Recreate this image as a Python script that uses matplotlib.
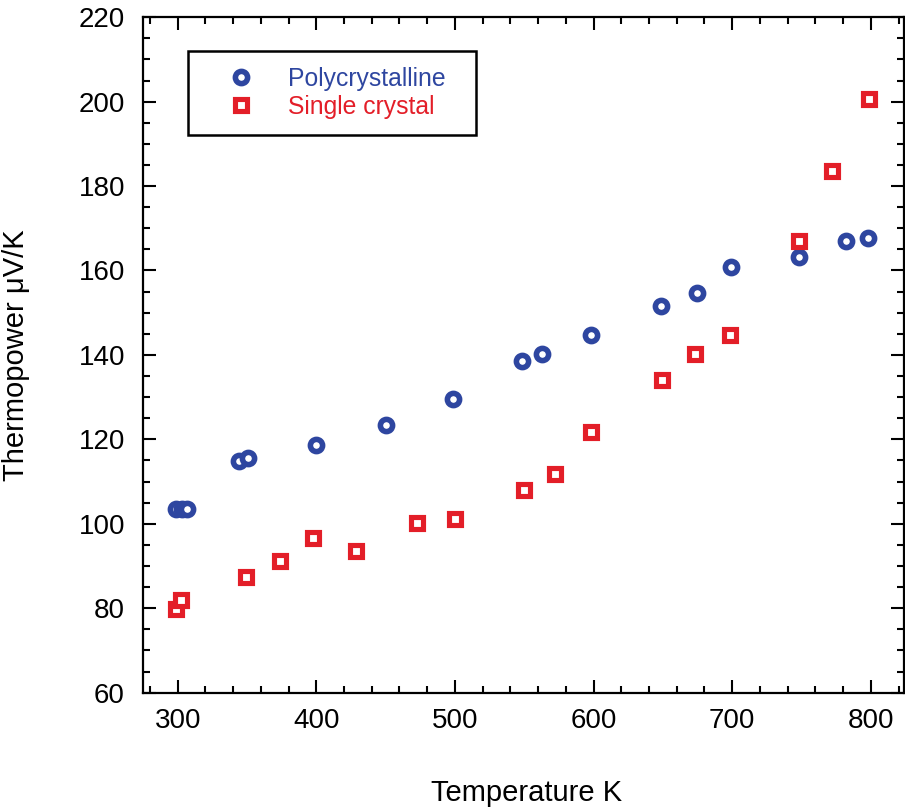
import matplotlib
matplotlib.use("Agg")
from matplotlib import pyplot as plt
from matplotlib.ticker import MultipleLocator

plt.rcParams['font.family'] = ['Liberation Sans', 'DejaVu Sans']

# polycrystalline sample (blue circles)
poly_T = [299, 303, 306.5, 344.5, 350.5, 399.5, 450, 498.5, 548.5, 562.5,
          598.5, 649, 674.5, 699, 748, 782, 798]
poly_S = [103.4, 103.4, 103.4, 114.9, 115.7, 118.7, 123.3, 129.5, 138.6, 140.2,
          144.8, 151.6, 154.7, 160.8, 163.2, 167.1, 167.8]

# single crystal (red squares)
single_T = [299, 302.5, 349.5, 374, 397.5, 429, 472.5, 500, 549.5, 572.5,
            598.5, 649.5, 673, 698.5, 748.5, 772, 799]
single_S = [79.8, 81.9, 87.4, 91.2, 96.6, 93.5, 100.3, 101.1, 108.0, 111.9,
            121.8, 134.0, 140.2, 144.7, 166.9, 183.6, 200.6]

blue = "#2E46A0"
red = "#E31E28"

fig = plt.figure(figsize=(9.05, 8.11), dpi=100)
ax = fig.add_axes([0.158, 0.1459, 0.841, 0.8329])

ax.plot(poly_T, poly_S, linestyle='none', marker='o', markersize=8.8,
        markeredgewidth=4.0, markerfacecolor='white', markeredgecolor=blue,
        label='Polycrystalline')
ax.plot(single_T, single_S, linestyle='none', marker='s', markersize=9.0,
        markeredgewidth=3.7, markerfacecolor='white', markeredgecolor=red,
        label='Single crystal')

ax.set_xlim(275, 824)
ax.set_ylim(60, 220)
ax.xaxis.set_major_locator(MultipleLocator(100))
ax.xaxis.set_minor_locator(MultipleLocator(20))
ax.yaxis.set_major_locator(MultipleLocator(20))
ax.yaxis.set_minor_locator(MultipleLocator(5))

ax.tick_params(which='both', direction='in', top=True, right=True,
               width=1.5, labelsize=20)
ax.tick_params(which='major', length=9.6)
ax.tick_params(which='minor', length=4.8)
ax.tick_params(axis='x', pad=11)
ax.tick_params(axis='y', pad=13)
for s in ax.spines.values():
    s.set_linewidth(1.6)

ax.set_xlabel("Temperature K", fontsize=21)
ax.set_ylabel("Thermopower \u03bcV/K", fontsize=21)
ax.xaxis.set_label_coords(0.504, -0.128)
ax.yaxis.set_label_coords(-0.148, 0.5)

leg = ax.legend(loc='upper left', bbox_to_anchor=(0.059, 0.830, 0.3785, 0.120),
                mode='expand', borderaxespad=0, fontsize=17.8, numpoints=1,
                handlelength=3.0, handletextpad=0.38, borderpad=0.65,
                labelspacing=0.15, fancybox=False, framealpha=1,
                edgecolor='black', labelcolor='markeredgecolor')
leg.get_frame().set_linewidth(1.8)

fig.savefig("out.png", dpi=100)
